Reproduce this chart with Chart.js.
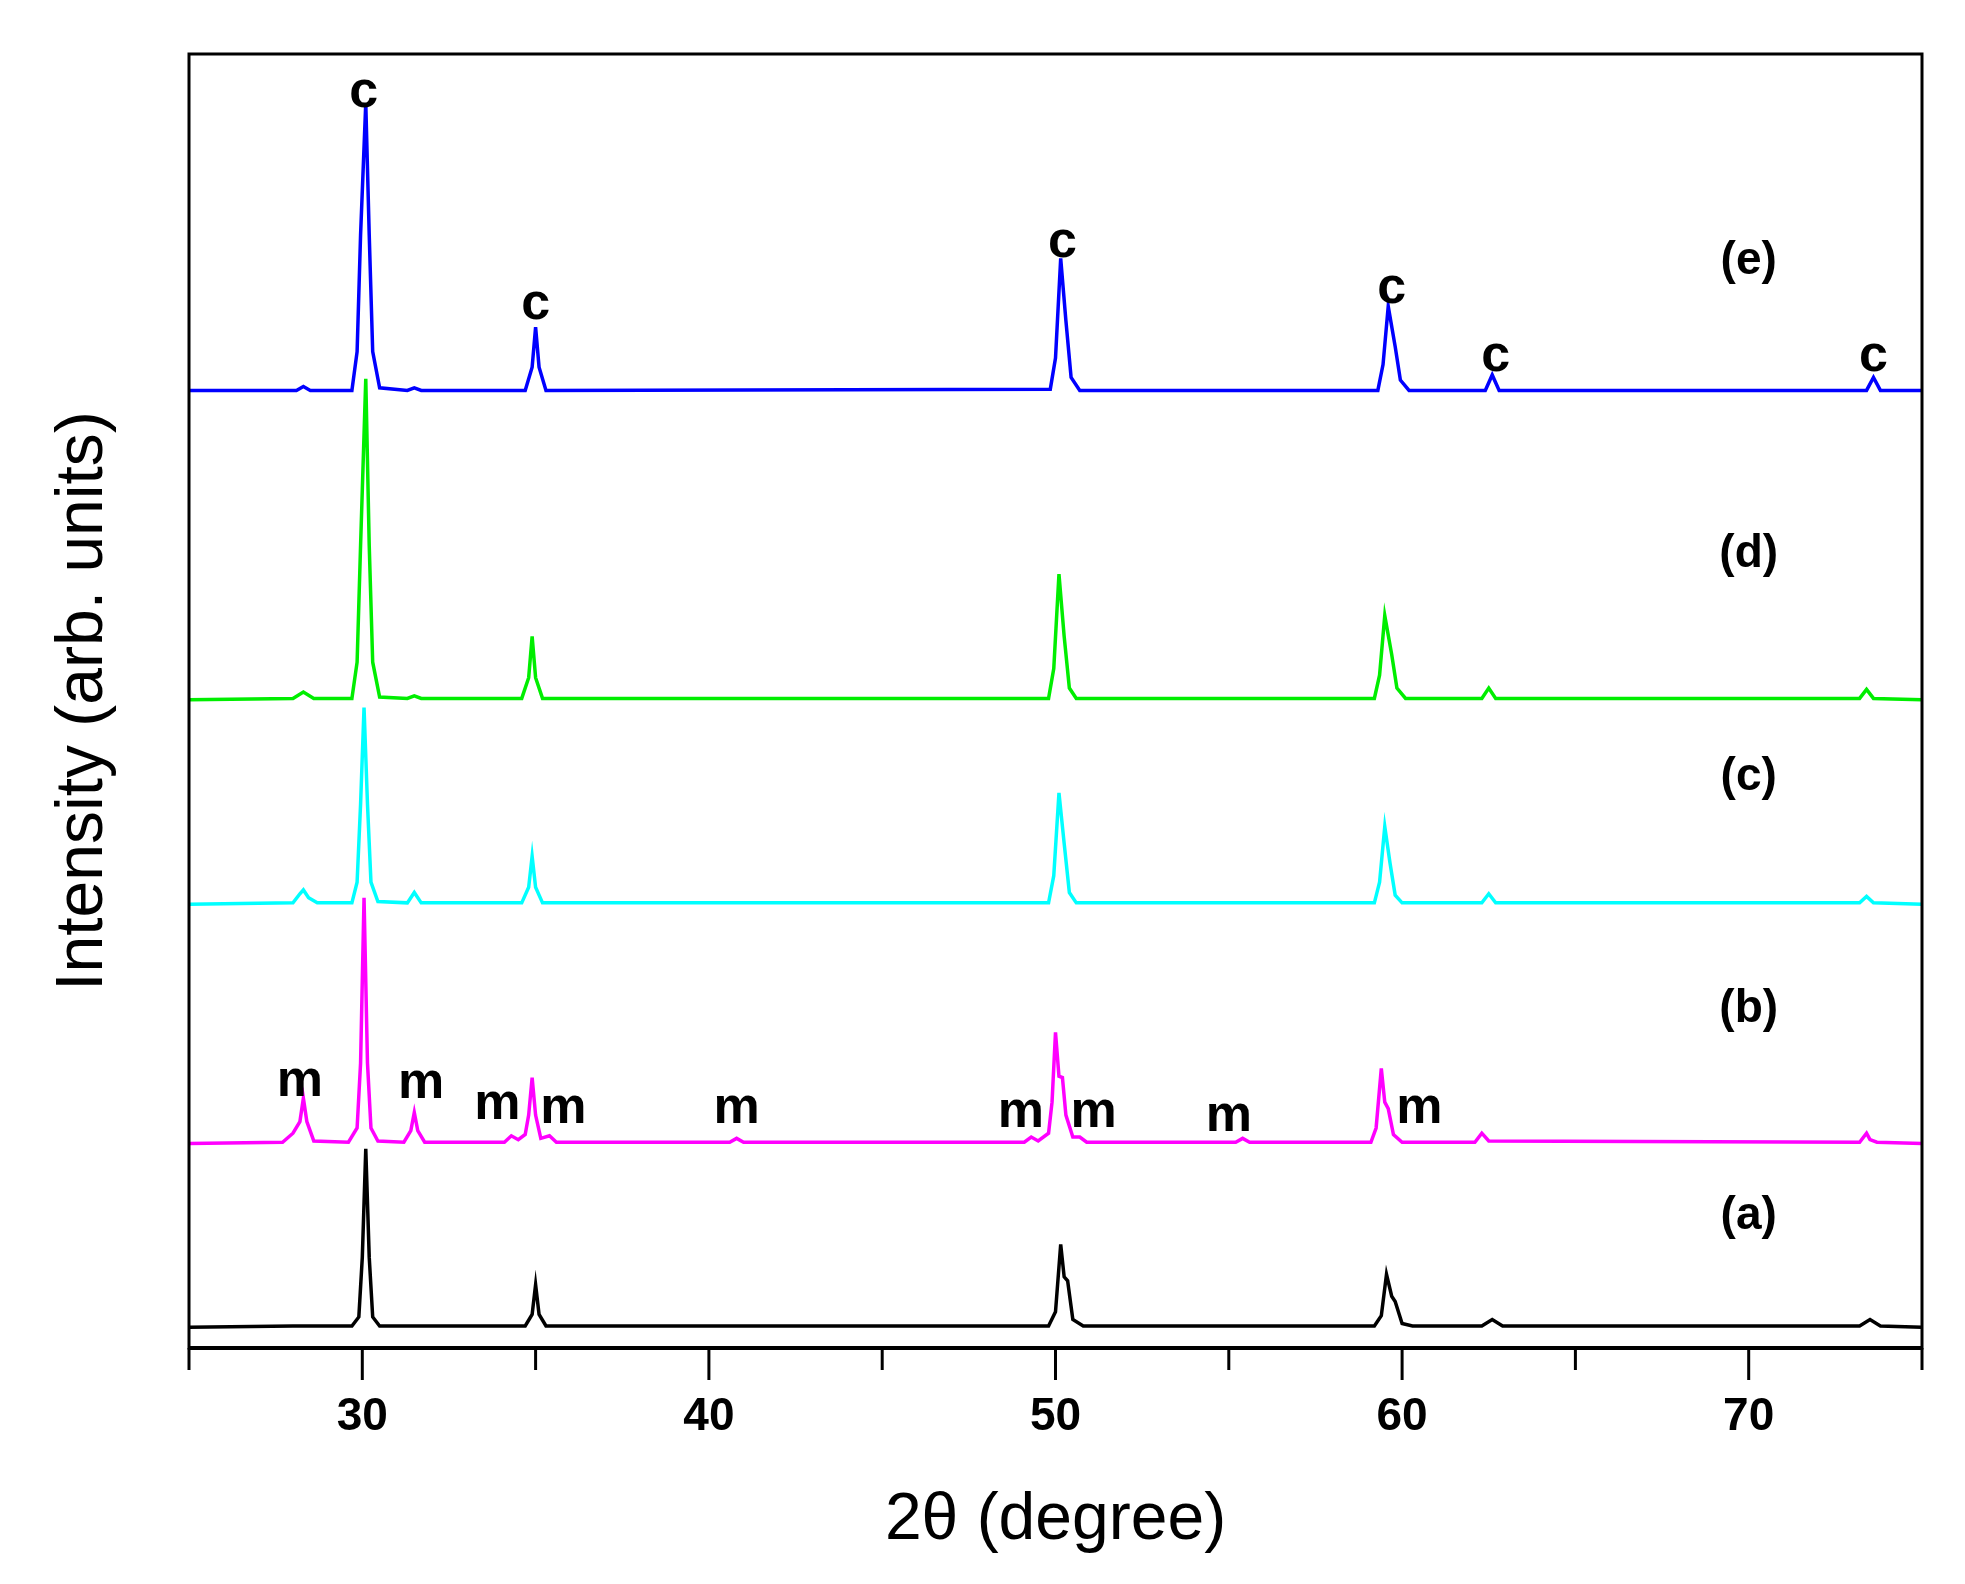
<!DOCTYPE html>
<html>
<head>
<meta charset="utf-8">
<script src="https://cdn.jsdelivr.net/npm/chart.js@4"></script>
<style>
  body { margin: 0; background: #fff; }
  #wrap { width: 1965px; height: 1584px; }
</style>
</head>
<body>
<div id="wrap"><canvas id="xrd"></canvas></div>
<script>
// points: [2theta, intensity (offset scale)]
const seriesA = [[25,1.6],[28,1.7],[29.7,1.7],[29.9,2.4],[30.0,7],[30.1,15.4],[30.2,7],[30.3,2.4],[30.5,1.7],
  [34.7,1.7],[34.9,2.6],[35.0,4.9],[35.1,2.6],[35.3,1.7],[49.8,1.7],[50.0,2.8],[50.15,8.0],[50.25,5.5],[50.35,5.2],[50.5,2.2],[50.8,1.7],
  [59.2,1.7],[59.4,2.5],[59.55,5.7],[59.7,4.0],[59.8,3.6],[60.0,1.9],[60.3,1.7],[62.3,1.7],[62.6,2.2],[62.9,1.7],
  [73.2,1.7],[73.5,2.2],[73.8,1.7],[75,1.6]];
const seriesB = [[25,15.8],[27.7,15.9],[28.0,16.6],[28.2,17.5],[28.3,19.3],[28.4,17.5],[28.6,16.0],[29.6,15.9],[29.85,17],[29.95,22],[30.05,34.8],[30.15,22],[30.25,17],[30.45,16.0],
  [31.2,15.9],[31.4,16.8],[31.5,18.2],[31.6,16.8],[31.8,15.9],[34.1,15.9],[34.3,16.4],[34.5,16.1],[34.7,16.5],[34.8,18],[34.9,20.9],[35.0,18],[35.15,16.2],[35.4,16.4],[35.6,15.9],
  [40.6,15.9],[40.8,16.2],[41.0,15.9],[49.1,15.9],[49.3,16.3],[49.5,16.0],[49.8,16.6],[49.9,19],[50.0,24.4],[50.1,21],[50.2,20.9],[50.3,18],[50.5,16.3],[50.7,16.3],[50.9,15.9],
  [55.2,15.9],[55.4,16.2],[55.6,15.9],[59.1,15.9],[59.25,17],[59.4,21.6],[59.5,19],[59.6,18.5],[59.75,16.5],[60.0,15.9],[62.1,15.9],[62.3,16.6],[62.5,16.0],
  [73.2,15.9],[73.4,16.6],[73.5,16.1],[73.7,15.9],[75,15.8]];
const seriesC = [[25,34.3],[28.0,34.4],[28.2,35.1],[28.3,35.4],[28.45,34.8],[28.7,34.4],[29.7,34.4],[29.85,36],[29.95,42],[30.05,49.5],[30.15,42],[30.25,36],[30.45,34.5],
  [31.3,34.4],[31.5,35.2],[31.7,34.4],[34.6,34.4],[34.8,35.6],[34.9,38.0],[35.0,35.6],[35.2,34.4],[49.8,34.4],[49.95,36.5],[50.1,42.9],[50.25,39],[50.4,35.2],[50.6,34.4],
  [59.2,34.4],[59.35,36],[59.5,40.3],[59.65,37.5],[59.8,35],[60.0,34.4],[62.3,34.4],[62.5,35.1],[62.7,34.4],[73.2,34.4],[73.4,34.9],[73.6,34.4],[75,34.3]];
const seriesD = [[25,50.1],[28.0,50.2],[28.3,50.7],[28.6,50.2],[29.7,50.2],[29.85,53],[29.95,62],[30.1,74.9],[30.2,62],[30.3,53],[30.5,50.3],
  [31.3,50.2],[31.5,50.4],[31.7,50.2],[34.6,50.2],[34.8,51.8],[34.9,55.0],[35.0,51.8],[35.2,50.2],[49.8,50.2],[49.95,52.5],[50.1,59.8],[50.25,55],[50.4,51],[50.6,50.2],
  [59.2,50.2],[59.35,52],[59.5,56.6],[59.7,53.6],[59.85,51],[60.1,50.2],[62.3,50.2],[62.5,51.0],[62.7,50.2],[73.2,50.2],[73.4,50.9],[73.6,50.2],[75,50.1]];
const seriesE = [[25,74.0],[28.1,74.0],[28.3,74.3],[28.5,74.0],[29.7,74.0],[29.85,77],[29.95,86],[30.1,96.2],[30.2,86],[30.3,77],[30.5,74.2],
  [31.3,74.0],[31.5,74.2],[31.7,74.0],[34.7,74.0],[34.9,75.8],[35.0,78.9],[35.1,75.8],[35.3,74.0],[49.85,74.1],[50.0,76.5],[50.15,84.2],[50.3,79.4],[50.45,75],[50.7,74.0],
  [59.3,74.0],[59.45,76],[59.6,80.5],[59.8,77.4],[59.95,74.8],[60.2,74.0],[62.4,74.0],[62.6,75.2],[62.8,74.0],[73.4,74.0],[73.6,75.0],[73.8,74.0],[75,74.0]];

const seriesNames = ['(a)', '(b)', '(c)', '(d)', '(e)'];
const seriesColors = ['#000000', '#ff00ff', '#00ffff', '#00ee00', '#0000ff'];
const seriesLabelY = [10.2, 26.2, 44.1, 61.3, 84.0];
const cubicMarks = [[30.04,97.0],[35.0,80.6],[50.2,85.4],[59.7,81.9],[62.7,76.6],[73.6,76.6]];
const monoMarks = [[28.2,20.6],[31.7,20.4],[33.9,18.8],[35.8,18.5],[40.8,18.5],[49.0,18.2],[51.1,18.2],[55.0,17.9],[60.5,18.5]];
const xTicks = [25, 30, 35, 40, 45, 50, 55, 60, 65, 70, 75];

const allSeries = [seriesA, seriesB, seriesC, seriesD, seriesE];

const decor = {
  id: 'decor',
  afterDatasetsDraw(chart) {
    const { ctx, chartArea: a, scales: { x, y } } = chart;
    ctx.save();
    ctx.strokeStyle = '#000';
    ctx.lineWidth = 3;
    ctx.strokeRect(a.left, a.top, a.right - a.left, a.bottom - a.top);
    ctx.lineWidth = 4;
    ctx.beginPath(); ctx.moveTo(a.left, a.bottom); ctx.lineTo(a.right, a.bottom); ctx.stroke();
    ctx.lineWidth = 3;
    xTicks.forEach(v => {
      const px = x.getPixelForValue(v);
      const len = v % 10 === 0 ? 32 : 22;
      ctx.beginPath(); ctx.moveTo(px, a.bottom); ctx.lineTo(px, a.bottom + len); ctx.stroke();
    });
    ctx.fillStyle = '#000';
    ctx.textAlign = 'center';
    ctx.textBaseline = 'middle';
    ctx.font = 'bold 46px "Liberation Sans", Arial, sans-serif';
    xTicks.filter(v => v % 10 === 0 && v > 25).forEach(v => ctx.fillText(String(v), x.getPixelForValue(v), a.bottom + 69));
    ctx.font = 'bold 52px "Liberation Sans", Arial, sans-serif';
    cubicMarks.forEach(([vx, vy]) => ctx.fillText('c', x.getPixelForValue(vx), y.getPixelForValue(vy)));
    monoMarks.forEach(([vx, vy]) => ctx.fillText('m', x.getPixelForValue(vx), y.getPixelForValue(vy)));
    ctx.font = 'bold 46px "Liberation Sans", Arial, sans-serif';
    seriesNames.forEach((n, i) => ctx.fillText(n, x.getPixelForValue(70), y.getPixelForValue(seriesLabelY[i])));
    ctx.restore();
  }
};

new Chart(document.getElementById('xrd'), {
  type: 'scatter',
  data: {
    datasets: allSeries.map((pts, i) => ({
      label: seriesNames[i],
      data: pts.map(([x, y]) => ({ x, y })),
      showLine: true,
      borderColor: seriesColors[i],
      borderWidth: 3.5,
      pointRadius: 0,
      tension: 0,
    })),
  },
  options: {
    responsive: true,
    maintainAspectRatio: false,
    animation: false,
    layout: { padding: { top: 54, right: 43, left: 40, bottom: 0 } },
    plugins: { legend: { display: false }, tooltip: { enabled: false } },
    scales: {
      x: {
        type: 'linear', min: 25, max: 75,
        grid: { display: false },
        border: { display: false },
        ticks: { display: false },
        title: { display: true, text: '2θ (degree)', font: { size: 66, family: '"Liberation Sans", Arial, sans-serif' }, color: '#000', padding: { top: 0, bottom: 24 } },
        afterFit: s => { s.height = 236; },
      },
      y: {
        min: 0, max: 100,
        grid: { display: false },
        border: { display: false },
        ticks: { display: false },
        title: { display: true, text: 'Intensity (arb. units)', font: { size: 66, family: '"Liberation Sans", Arial, sans-serif' }, color: '#000' },
        afterFit: s => { s.width = 149; },
      },
    },
  },
  plugins: [decor],
});
</script>
</body>
</html>
